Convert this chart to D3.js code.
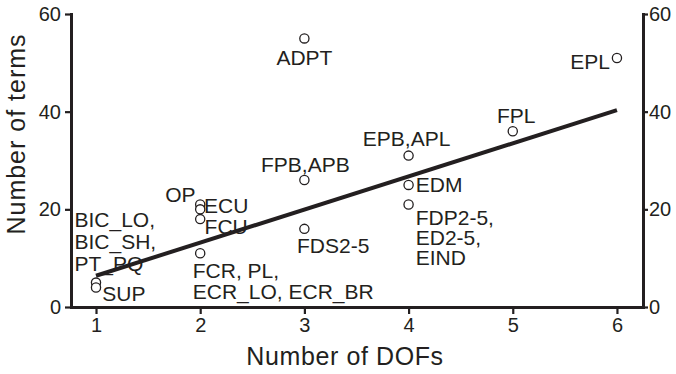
<!DOCTYPE html>
<html>
<head>
<meta charset="utf-8">
<script src="https://cdn.jsdelivr.net/npm/d3@7"></script>
<style>
  html, body { margin: 0; padding: 0; background: #fff; }
  svg { display: block; }
  text { font-family: "Liberation Sans", Arial, Helvetica, sans-serif; fill: #231f20; }
</style>
</head>
<body>
<svg id="chart" width="676" height="374"></svg>
<script>
// ---- data ----
const dofs  = [1, 1, 2, 2, 2, 2, 3, 3, 3, 4, 4, 4, 5, 6];
const terms = [5, 4, 21, 20, 18, 11, 55, 26, 16, 31, 25, 21, 36, 51];
const pointLabels = [
  ["BIC_LO,", "BIC_SH,", "PT_PQ"],
  ["SUP"],
  ["OP"],
  ["ECU"],
  ["FCU"],
  ["FCR, PL,", "ECR_LO, ECR_BR"],
  ["ADPT"],
  ["FPB,APB"],
  ["FDS2-5"],
  ["EPB,APL"],
  ["EDM"],
  ["FDP2-5,", "ED2-5,", "EIND"],
  ["FPL"],
  ["EPL"]
];
const fitX = [1, 6];
const fitSlope = 6.78;
const fitIntercept = -0.38;
const xTicks = [1, 2, 3, 4, 5, 6];
const yTicks = [0, 20, 40, 60];
const xTitle = "Number of DOFs";
const yTitle = "Number of terms";

// ---- layout (label placement relative to its point, in px) ----
const labelLayout = [
  {dx: -21.5, dy: -56, anchor: "start", lh: 22},
  {dx: 6.3, dy: 14, anchor: "start"},
  {dx: -4.7, dy: -2.6, anchor: "end"},
  {dx: 3.8, dy: 4, anchor: "start"},
  {dx: 4.4, dy: 14.5, anchor: "start"},
  {dx: -7.4, dy: 25, anchor: "start", lh: 20.5},
  {dx: 0, dy: 27, anchor: "middle"},
  {dx: 1, dy: -8, anchor: "middle"},
  {dx: -7.4, dy: 24, anchor: "start"},
  {dx: -2, dy: -9.5, anchor: "middle"},
  {dx: 7.2, dy: 7.5, anchor: "start"},
  {dx: 7.2, dy: 20.5, anchor: "start", lh: 20},
  {dx: 3.5, dy: -8.5, anchor: "middle"},
  {dx: -7, dy: 11, anchor: "end"}
];

const svg = d3.select("#chart");
const x = d3.scaleLinear().domain([0.76, 6.25]).range([71, 643]);
const y = d3.scaleLinear().domain([0, 60]).range([307, 14]);
const ink = "#231f20";

function styleAxis(g, fs) {
  g.select(".domain").attr("stroke", ink).attr("stroke-width", 3).attr("stroke-linecap", "square");
  g.selectAll(".tick line").attr("stroke", ink).attr("stroke-width", 2.2);
  g.selectAll(".tick text").attr("fill", ink).style("font-size", fs + "px")
    .style("font-family", '"Liberation Sans", Arial, sans-serif');
}

// bottom axis
const gx = svg.append("g").attr("transform", `translate(0,${y(0)})`)
  .call(d3.axisBottom(x).tickValues(xTicks).tickFormat(d3.format("d")).tickSize(7).tickSizeOuter(0).tickPadding(4));
styleAxis(gx, 20);

// left axis
const gy = svg.append("g").attr("transform", `translate(${x.range()[0]},0)`)
  .call(d3.axisLeft(y).tickValues(yTicks).tickFormat(d3.format("d")).tickSize(6).tickSizeOuter(0).tickPadding(4));
styleAxis(gy, 20);

// right axis
const gr = svg.append("g").attr("transform", `translate(${x.range()[1]},0)`)
  .call(d3.axisRight(y).tickValues(yTicks).tickFormat(d3.format("d")).tickSize(5).tickSizeOuter(0).tickPadding(1));
styleAxis(gr, 20);

// titles
svg.append("text").attr("x", 345).attr("y", 365).attr("text-anchor", "middle")
  .style("font-size", "25px").style("letter-spacing", "0.6px").text(xTitle);
svg.append("text").attr("transform", "translate(25,134) rotate(-90)").attr("text-anchor", "middle")
  .style("font-size", "25px").style("letter-spacing", "1px").text(yTitle);

// points
const pts = dofs.map((d, i) => ({x: d, y: terms[i], lab: pointLabels[i], lay: labelLayout[i]}));
svg.append("g").selectAll("circle").data(pts).join("circle")
  .attr("cx", d => x(d.x)).attr("cy", d => y(d.y)).attr("r", 4.6)
  .attr("fill", "#fff").attr("stroke", ink).attr("stroke-width", 1.3);

// regression line
const line = d3.line().x(d => x(d)).y(d => y(fitSlope * d + fitIntercept));
svg.append("path").datum(fitX).attr("d", line)
  .attr("fill", "none").attr("stroke", ink).attr("stroke-width", 4);

// labels
const lg = svg.append("g");
pts.forEach(p => {
  const t = lg.append("text")
    .attr("x", x(p.x) + p.lay.dx).attr("y", y(p.y) + p.lay.dy)
    .attr("text-anchor", p.lay.anchor).style("font-size", "21px");
  p.lab.forEach((s, j) => {
    t.append("tspan").attr("x", x(p.x) + p.lay.dx)
      .attr("dy", j === 0 ? 0 : p.lay.lh).text(s);
  });
});
</script>
</body>
</html>
